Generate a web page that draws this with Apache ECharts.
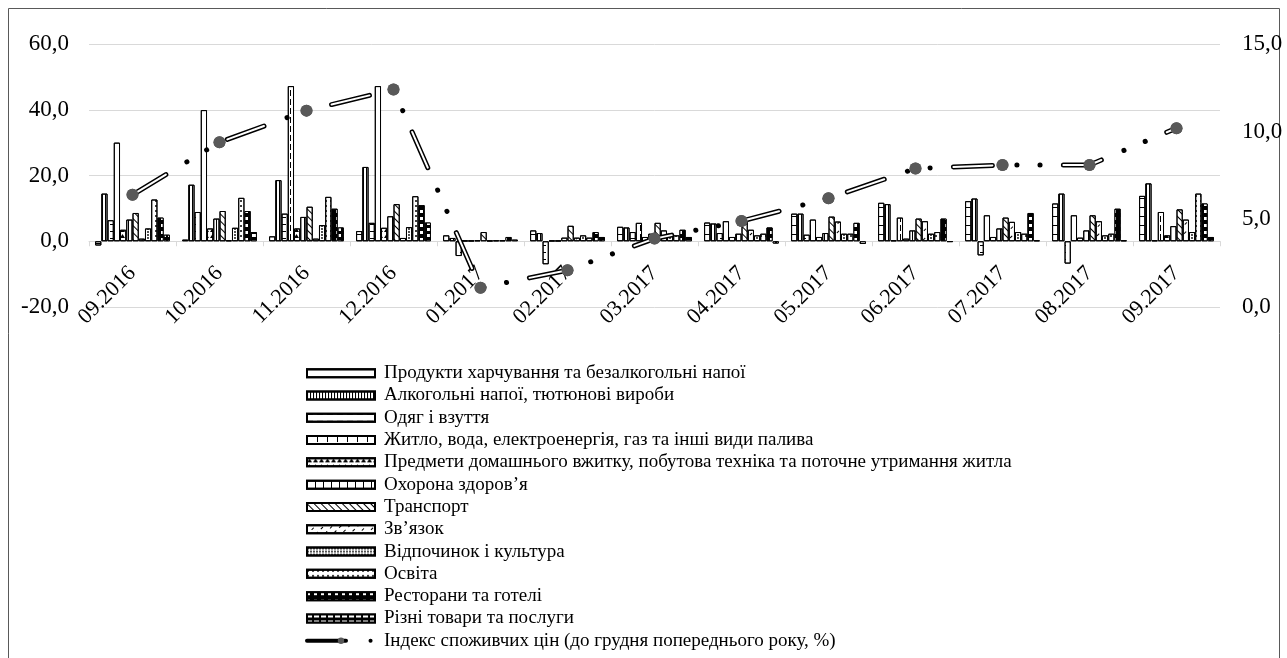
<!DOCTYPE html>
<html>
<head>
<meta charset="utf-8">
<script src="https://cdn.jsdelivr.net/npm/echarts@6/dist/echarts.min.js"></script>
<style>
html,body{margin:0;padding:0;background:#fff;}
#c{width:1287px;height:658px;}
</style>
</head>
<body>
<div id="c"></div>
<script>
const categories = ['09.2016','10.2016','11.2016','12.2016','01.2017','02.2017','03.2017','04.2017','05.2017','06.2017','07.2017','08.2017','09.2017'];
const seriesNames = [
  'Продукти харчування та безалкогольні напої',
  'Алкогольні напої, тютюнові вироби',
  'Одяг і взуття',
  'Житло, вода, електроенергія, газ та інші види палива',
  'Предмети домашнього вжитку, побутова техніка та поточне утримання житла',
  'Охорона здоров’я',
  'Транспорт',
  'Зв’язок',
  'Відпочинок і культура',
  'Освіта',
  'Ресторани та готелі',
  'Різні товари та послуги'
];
const lineName = 'Індекс споживчих цін (до грудня попереднього року, %)';

const food        = [-1.3, 0.5, 1.5, 3.1, 1.8, 3.3, 4.4, 5.7, 8.4, 11.7, 12.2, 11.5, 13.8];
const alcohol     = [14.5, 17.2, 18.6, 22.6, 1.0, 2.5, 4.2, 5.4, 8.4, 11.3, 13.0, 14.5, 17.6];
const clothing    = [6.4, 8.9, 8.4, 5.6, -4.5, -7.0, 2.8, 2.5, 2.0, 0.3, -4.3, -6.8, 0.3];
const housing     = [30.0, 39.9, 47.2, 47.2, 0.2, 0.2, 5.6, 6.1, 6.6, 7.2, 7.9, 7.9, 8.9];
const household   = [3.5, 3.9, 3.9, 4.1, 0.2, 0.2, 1.3, 1.3, 1.3, 0.8, 1.3, 1.1, 1.8];
const health      = [6.6, 6.9, 7.4, 7.6, 0.3, 1.1, 2.3, 2.3, 2.5, 3.3, 3.9, 3.3, 4.6];
const transport   = [8.6, 9.2, 10.5, 11.3, 2.8, 4.7, 5.6, 6.6, 7.5, 6.9, 7.2, 7.9, 9.7];
const communication=[0.8, 0.3, 0.8, 1.0, 0.2, 1.1, 3.3, 3.5, 6.0, 6.1, 5.9, 6.1, 6.6];
const recreation  = [3.9, 4.1, 4.9, 4.3, 0.3, 1.8, 2.3, 1.8, 2.3, 2.3, 2.8, 1.8, 2.8];
const education   = [12.7, 13.2, 13.5, 13.7, 0.3, 1.1, 1.8, 2.3, 2.3, 2.8, 2.3, 2.3, 14.5];
const restaurants = [7.2, 9.2, 9.9, 11.0, 1.3, 2.8, 3.5, 4.2, 5.6, 6.9, 8.6, 9.9, 11.5];
const misc        = [2.0, 2.8, 4.2, 5.7, 0.5, 1.3, 1.3, -0.7, -0.8, -0.2, 0.3, 0.3, 1.3];
const cpi         = [6.4, 9.4, 11.2, 12.4, 1.1, 2.1, 3.9, 4.9, 6.2, 7.9, 8.1, 8.1, 10.2];

const leftTicks = {min: -20, max: 60, interval: 20};
const rightTicks = {min: 0, max: 15, interval: 5};

const barData = [food, alcohol, clothing, housing, household, health, transport, communication, recreation, education, restaurants, misc];

const K = '#000';
const decals = [
  {symbol:'rect', symbolSize:1, symbolKeepAspect:false, color:K, dashArrayX:[4,0], dashArrayY:[1,8]},
  {symbol:'rect', symbolSize:1, symbolKeepAspect:false, color:K, dashArrayX:[1,2], dashArrayY:[4,0]},
  {symbol:'rect', symbolSize:1, symbolKeepAspect:false, color:K, dashArrayX:[6,4], dashArrayY:[1,6]},
  {symbol:'rect', symbolSize:1, symbolKeepAspect:false, color:K, dashArrayX:[1,9], dashArrayY:[6,3]},
  {symbol:'triangle', symbolSize:1, symbolKeepAspect:false, color:K, dashArrayX:[5,1], dashArrayY:[4,2]},
  {symbol:'rect', symbolSize:1, symbolKeepAspect:false, color:K, dashArrayX:[1,7], dashArrayY:[4,0]},
  {symbol:'rect', symbolSize:1, symbolKeepAspect:false, color:K, dashArrayX:[4,0], dashArrayY:[1,4], rotation:Math.PI/4},
  {symbol:'rect', symbolSize:1, symbolKeepAspect:false, color:K, dashArrayX:[3,4], dashArrayY:[1,5], rotation:-Math.PI/4},
  {symbol:'circle', symbolSize:0.9, symbolKeepAspect:false, color:K, dashArrayX:[2,1], dashArrayY:[2,1]},
  {symbol:'circle', symbolSize:1, symbolKeepAspect:false, color:K, dashArrayX:[2,3], dashArrayY:[2,3]},
  {symbol:'rect', symbolSize:1, symbolKeepAspect:false, color:'#fff', dashArrayX:[3,4], dashArrayY:[3,4]},
  {symbol:'rect', symbolSize:1, symbolKeepAspect:false, color:'#fff', dashArrayX:[5,2], dashArrayY:[3,3]}
];
const fills = ['#fff','#fff','#fff','#fff','#fff','#fff','#fff','#fff','#fff','#fff','#000','#000'];

const FONT = 'Liberation Serif, Times New Roman, serif';
const fmt = v => v.toFixed(1).replace('.', ',');

const series = barData.map((d, i) => ({
  name: seriesNames[i],
  type: 'bar',
  data: d,
  barGap: '0%',
  barCategoryGap: '14%',
  itemStyle: {color: fills[i], borderColor: '#000', borderWidth: 1, decal: decals[i]},
  emphasis: {disabled: true},
  animation: false
}));

const dash = [39, 24.5, 0.1, 23, 0.1, 23.3];
series.push({
  name: lineName, type: 'line', yAxisIndex: 1, data: cpi,
  symbol: 'circle', symbolSize: 12, showSymbol: true,
  itemStyle: {color: '#595959'},
  lineStyle: {color: '#000', width: 5, type: dash, cap: 'round', join: 'round'},
  z: 5, animation: false
});
series.push({
  name: '_inner', type: 'line', yAxisIndex: 1, data: cpi, showSymbol: false, symbol: 'none',
  lineStyle: {color: '#fff', width: 2, type: [39, 71], cap: 'round', join: 'round'},
  z: 6, animation: false, silent: true
});
series.push({
  name: '_markers', type: 'line', yAxisIndex: 1, data: cpi,
  symbol: 'circle', symbolSize: 12, showSymbol: true,
  itemStyle: {color: '#595959'},
  lineStyle: {opacity: 0, width: 0},
  z: 7, animation: false, silent: true
});

const legendData = seriesNames.map(n => ({name: n, icon: 'rect'}));
legendData.push({name: lineName, lineStyle: {width: 4, color: '#000'}});

const chart = echarts.init(document.getElementById('c'), null, {renderer: 'canvas'});
chart.setOption({
  animation: false,
  backgroundColor: '#fff',
  graphic: [{
    type: 'rect', shape: {x: 8.5, y: 8.5, width: 1271, height: 700},
    style: {fill: 'none', stroke: '#595959', lineWidth: 1}, silent: true
  }],
  grid: {left: 89, right: 67, top: 44, bottom: 351, containLabel: false},
  legend: {
    orient: 'vertical', left: 305, top: 362, height: 296, padding: 0,
    itemWidth: 68, itemHeight: 8, itemGap: 0,
    textStyle: {fontFamily: FONT, fontSize: 19, color: '#000', lineHeight: 22.3, padding: [0, 0, 0, 4]},
    data: legendData, selectedMode: false
  },
  xAxis: {
    type: 'category', data: categories, boundaryGap: true,
    axisLine: {onZero: true, lineStyle: {color: '#d9d9d9', width: 1}},
    axisTick: {show: true, length: 5, lineStyle: {color: '#d9d9d9'}},
    axisLabel: {rotate: 45, interval: 0, margin: -37, fontFamily: FONT, fontSize: 22, color: '#000'},
    splitLine: {show: false}
  },
  yAxis: [{
    type: 'value', min: leftTicks.min, max: leftTicks.max, interval: leftTicks.interval,
    axisLine: {show: false}, axisTick: {show: false},
    axisLabel: {formatter: fmt, fontFamily: FONT, fontSize: 23, color: '#000', margin: 20},
    splitLine: {lineStyle: {color: '#d9d9d9', width: 1}}
  }, {
    type: 'value', min: rightTicks.min, max: rightTicks.max, interval: rightTicks.interval,
    position: 'right',
    axisLine: {show: false}, axisTick: {show: false},
    axisLabel: {formatter: fmt, fontFamily: FONT, fontSize: 23, color: '#000', margin: 22},
    splitLine: {show: false}
  }],
  series: series
});
</script>
</body>
</html>
